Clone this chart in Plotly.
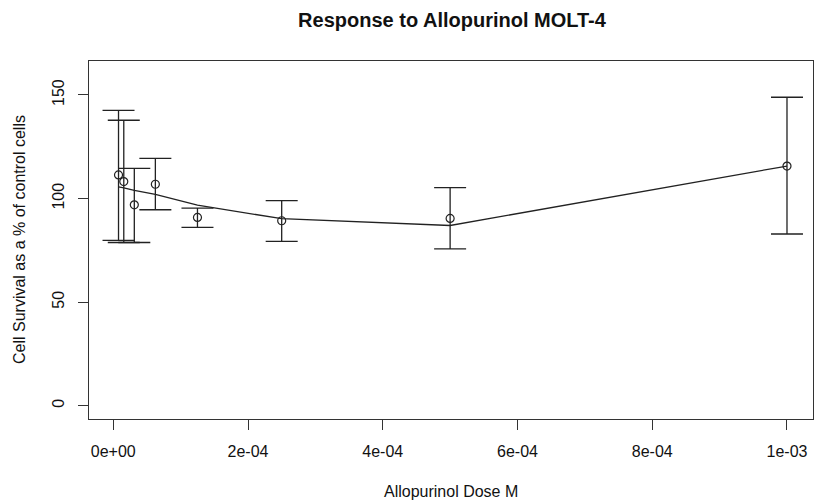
import plotly.graph_objects as go

# dose (M) and cell survival (% of control)
doses = [7.8125e-6, 1.5625e-5, 3.125e-5, 6.25e-5, 1.25e-4, 2.5e-4, 5e-4, 1e-3]
survival = [111.4, 108.2, 97.0, 106.9, 90.9, 89.3, 90.4, 115.7]
upper = [142.6, 137.8, 114.6, 119.4, 95.4, 99.0, 105.3, 148.9]
lower = [79.8, 78.8, 78.8, 94.6, 86.1, 79.3, 75.7, 82.9]
fitted = [105.6, 105.2, 104.0, 102.0, 96.8, 90.3, 87.0, 115.7]

x_ticks = [0, 2e-4, 4e-4, 6e-4, 8e-4, 1e-3]
x_labels = ["0e+00", "2e-04", "4e-04", "6e-04", "8e-04", "1e-03"]
y_ticks = [0, 50, 100, 150]

ink = "#222222"
font = "Liberation Sans, Arial, sans-serif"

fig = go.Figure()
fig.add_trace(go.Scatter(x=doses, y=fitted, mode="lines",
                         line=dict(color=ink, width=1.3), hoverinfo="skip"))
fig.add_trace(go.Scatter(
    x=doses, y=survival, mode="markers",
    marker=dict(symbol="circle-open", size=8, color=ink, line=dict(width=1.2)),
    error_y=dict(type="data", symmetric=False,
                 array=[u - m for u, m in zip(upper, survival)],
                 arrayminus=[m - l for m, l in zip(survival, lower)],
                 width=16, thickness=1.3, color=ink)))

axis_common = dict(showgrid=False, zeroline=False, showline=True, mirror=True,
                   linecolor="#333333", linewidth=1, ticks="outside", ticklen=10,
                   tickcolor="#333333", tickwidth=1, automargin=False,
                   tickfont=dict(family=font, size=16, color="#111111"))

fig.update_layout(
    width=816, height=504,
    margin=dict(l=89, r=3, t=61, b=85),
    plot_bgcolor="white", paper_bgcolor="white",
    showlegend=False,
    font=dict(family=font, color="#111111"),
    title=dict(text="<b>Response to Allopurinol MOLT-4</b>", x=452 / 816, xanchor="center",
               y=1 - 20 / 504, yanchor="middle", yref="container",
               font=dict(family=font, size=20, color="#111111")),
    xaxis=dict(range=[-3.6e-5, 1.0386e-3], tickvals=x_ticks, ticktext=x_labels,
               ticklabelstandoff=8, **axis_common),
    yaxis=dict(range=[-6.4, 166.4], tickvals=y_ticks, tickangle=-90,
               ticklabelstandoff=8, **axis_common),
    annotations=[
        dict(text="Allopurinol Dose M", xref="paper", yref="paper", x=0.5, y=0,
             xanchor="center", yanchor="middle", yshift=-72, showarrow=False,
             font=dict(family=font, size=16, color="#111111")),
        dict(text="Cell Survival as a % of control cells", xref="paper", yref="paper",
             x=0, y=0.5, xanchor="center", yanchor="middle", xshift=-70, textangle=-90,
             showarrow=False, font=dict(family=font, size=16, color="#111111")),
    ],
)

# drop the page's default body margin so the figure sits at the window corner
fig.write_html("out.html", config={"displayModeBar": False},
               post_script="document.body.style.margin='0';")
